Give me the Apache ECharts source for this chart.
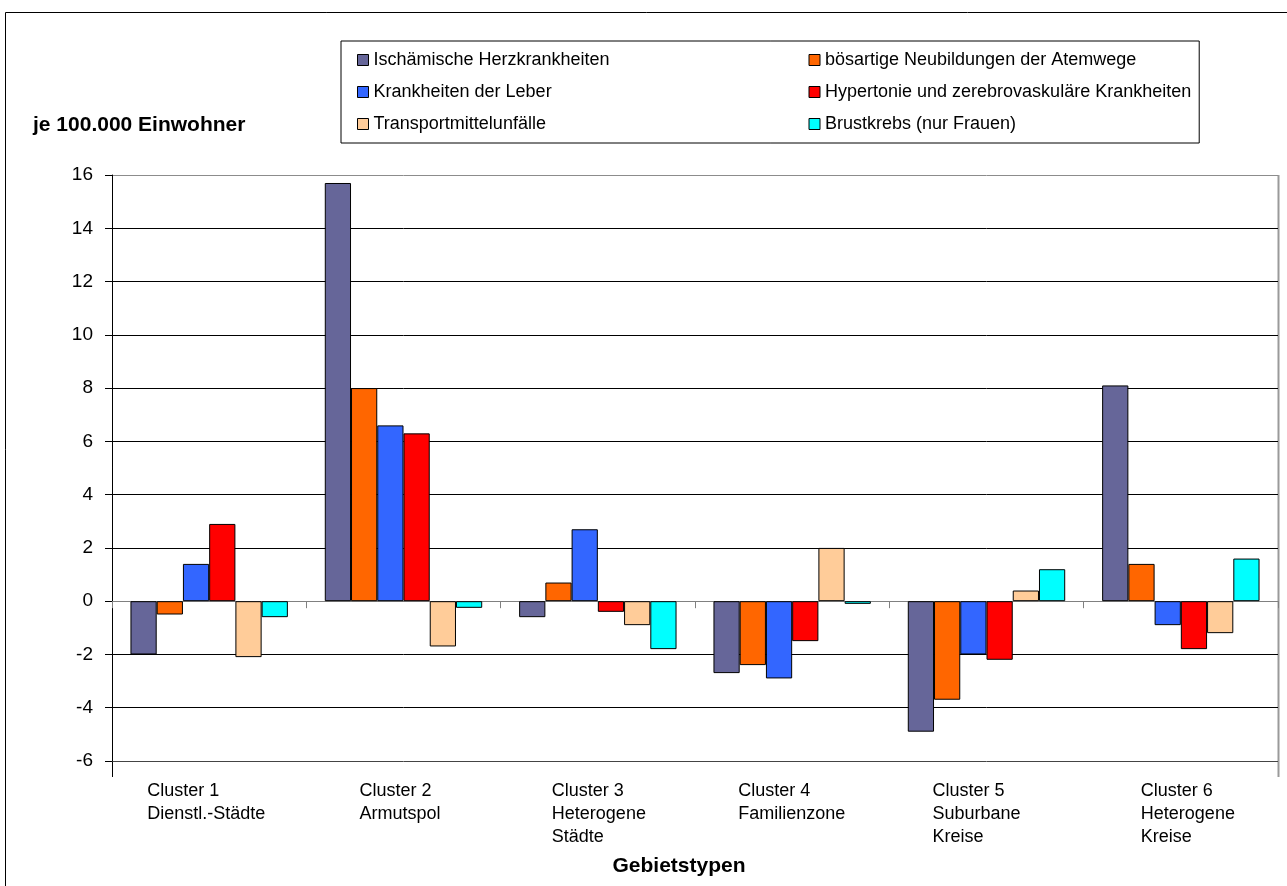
<!DOCTYPE html>
<html>
<head>
<meta charset="utf-8">
<script src="https://cdn.jsdelivr.net/npm/echarts@6/dist/echarts.min.js"></script>
<style>
  html, body { margin: 0; padding: 0; background: #ffffff; }
  #chart { width: 1287px; height: 886px; }
</style>
</head>
<body>
<div id="chart"></div>
<script>
// ---- data ---------------------------------------------------------------
const categories = [
  'Cluster 1\nDienstl.-Städte',
  'Cluster 2\nArmutspol',
  'Cluster 3\nHeterogene\nStädte',
  'Cluster 4\nFamilienzone',
  'Cluster 5\nSuburbane\nKreise',
  'Cluster 6\nHeterogene\nKreise'
];

const seriesNames = [
  'Ischämische Herzkrankheiten',
  'bösartige Neubildungen der Atemwege',
  'Krankheiten der Leber',
  'Hypertonie und zerebrovaskuläre Krankheiten',
  'Transportmittelunfälle',
  'Brustkrebs (nur Frauen)'
];

const ischaemischeHerz   = [-2.0, 15.7, -0.6, -2.7, -4.9,  8.1];
const neubildungenAtem   = [-0.5,  8.0,  0.7, -2.4, -3.7,  1.4];
const leber              = [ 1.4,  6.6,  2.7, -2.9, -2.0, -0.9];
const hypertonie         = [ 2.9,  6.3, -0.4, -1.5, -2.2, -1.8];
const transportUnfaelle  = [-2.1, -1.7, -0.9,  2.0,  0.4, -1.2];
const brustkrebs         = [-0.6, -0.25, -1.8, -0.1, 1.2,  1.6];

const yMin = -6;
const yMax = 16;
const yStep = 2;

const yAxisTitle = 'je 100.000 Einwohner';
const xAxisTitle = 'Gebietstypen';

// ---- styling ------------------------------------------------------------
const FONT = '"Liberation Sans", Arial, Helvetica, sans-serif';
const colors = ['#666699', '#FF6600', '#3366FF', '#FF0000', '#FFCC99', '#00FFFF'];
const GRID = { left: 112, right: 9, top: 175, bottom: 125 };
const W = 1287, H = 886;
// how far each category label block starts left of its category centre
const labelInset = [62, 44, 46, 54, 54, 40];

const valueSets = [ischaemischeHerz, neubildungenAtem, leber, hypertonie, transportUnfaelle, brustkrebs];

// split line colours from bottom (-6) to top (16)
const splitColors = [];
for (let v = yMin; v <= yMax; v += yStep) {
  splitColors.push(v === yMax ? '#8c8c8c' : (v === yMin ? '#444444' : '#000000'));
}

const rich = {};
labelInset.forEach((inset, i) => {
  rich['c' + i] = {
    width: inset * 2, align: 'left', fontSize: 18, lineHeight: 23,
    color: '#000', fontFamily: FONT
  };
});

const chart = echarts.init(document.getElementById('chart'), null, { renderer: 'canvas' });

const plotBottom = H - GRID.bottom;
const plotRight = W - GRID.right;

chart.setOption({
  animation: false,
  backgroundColor: '#ffffff',
  textStyle: { fontFamily: FONT, color: '#000' },
  title: [
    {
      text: yAxisTitle, left: 33, top: 115, padding: 0,
      textStyle: { fontSize: 21, fontWeight: 'bold', color: '#000', fontFamily: FONT }
    },
    {
      text: xAxisTitle, left: 679, top: 856, padding: 0, textAlign: 'center',
      textStyle: { fontSize: 21, fontWeight: 'bold', color: '#000', fontFamily: FONT }
    }
  ],
  legend: {
    left: 341, top: 41, width: 870,
    orient: 'horizontal',
    padding: [8, 8, 8, 16],
    borderColor: '#000', borderWidth: 1,
    backgroundColor: '#fff',
    icon: 'rect',
    itemWidth: 11, itemHeight: 11, itemGap: 10,
    itemStyle: { borderColor: '#000', borderWidth: 1 },
    textStyle: { fontSize: 18, lineHeight: 22, color: '#000', fontFamily: FONT },
    data: seriesNames.map((n, i) => (i % 2 === 0 ? { name: n, textStyle: { width: 425 } } : { name: n }))
  },
  grid: { left: GRID.left, right: GRID.right, top: GRID.top, bottom: GRID.bottom, containLabel: false },
  xAxis: [
    {
      // category axis running along the zero line
      type: 'category',
      data: categories,
      axisLine: { show: true, onZero: true, lineStyle: { color: '#808080', width: 1 } },
      axisTick: { show: true, length: 7, lineStyle: { color: '#808080' } },
      axisLabel: { show: false },
      splitLine: { show: false }
    },
    {
      // category labels below the plot
      type: 'category',
      data: categories,
      position: 'bottom',
      axisLine: { show: false, onZero: false },
      axisTick: { show: false },
      splitLine: { show: false },
      axisLabel: {
        show: true, interval: 0, margin: 19,
        formatter: (value, index) => value.split('\n').map(line => '{c' + index + '|' + line + '}').join('\n'),
        rich: rich
      }
    }
  ],
  yAxis: {
    type: 'value',
    min: yMin, max: yMax, interval: yStep,
    axisLine: { show: true, lineStyle: { color: '#000', width: 1 } },
    axisTick: { show: true, length: 7, lineStyle: { color: '#000' } },
    axisLabel: { fontSize: 19, margin: 19, color: '#000', fontFamily: FONT },
    splitLine: { show: true, lineStyle: { color: splitColors, width: 1 } }
  },
  series: seriesNames.map((name, i) => ({
    name: name,
    type: 'bar',
    xAxisIndex: 0,
    data: valueSets[i],
    barGap: '0%',
    barCategoryGap: '19%',
    itemStyle: { color: colors[i], borderColor: '#000', borderWidth: 1 }
  })),
  graphic: [
    {
      // outer chart frame
      type: 'rect', silent: true,
      shape: { x: 5.5, y: 12.5, width: W, height: H },
      style: { fill: 'none', stroke: '#000', lineWidth: 1 }
    },
    {
      // value axis runs slightly past the lowest grid line
      type: 'line', silent: true,
      shape: { x1: GRID.left + 0.5, y1: plotBottom, x2: GRID.left + 0.5, y2: plotBottom + 16 },
      style: { stroke: '#000', lineWidth: 1 }
    },
    {
      // plot area right edge
      type: 'line', silent: true,
      shape: { x1: plotRight + 0.5, y1: GRID.top, x2: plotRight + 0.5, y2: plotBottom + 16 },
      style: { stroke: '#9a9a9a', lineWidth: 2 }
    }
  ]
});
</script>
</body>
</html>
